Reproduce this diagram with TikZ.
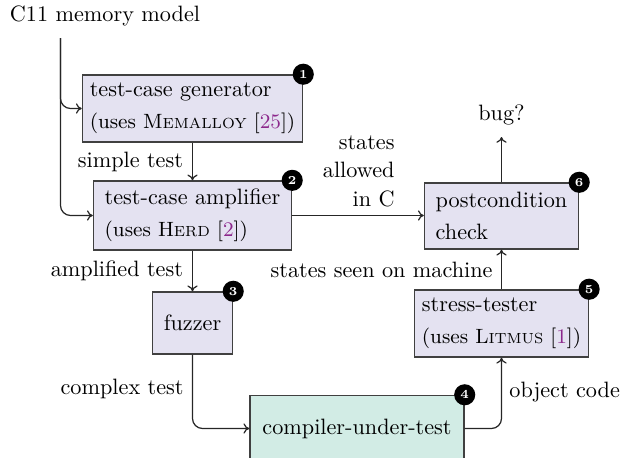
\documentclass[tikz,border=0pt]{standalone}
\usetikzlibrary{calc,arrows.meta}
\definecolor{boxfill}{RGB}{228,226,241}
\definecolor{cutfill}{RGB}{210,236,229}
\definecolor{boxline}{RGB}{64,64,64}
\definecolor{citecol}{RGB}{140,40,140}
\newcommand{\citeref}[1]{[\textcolor{citecol}{#1}]}
% tool names in small capitals
\newcommand{\toolname}[2]{#1{\fontsize{6.6}{6.6}\selectfont #2}}
% second line of a stage box: the tool it relies on
\newcommand{\uses}[1]{{\fontsize{9.3}{9.3}\selectfont(uses #1)}}
\begin{document}
\begin{tikzpicture}[x=0.45pt,y=-0.45pt,
  every node/.style={font=\fontsize{10}{14.4}\selectfont},
  stage/.style={draw=boxline,line width=0.65pt,fill=boxfill,align=left,
    inner xsep=3.3pt,inner ysep=0pt},
  badge/.style={circle,fill=black,text=white,inner sep=0pt,minimum size=9.5pt,
    font=\fontsize{5.5}{5.5}\selectfont\bfseries},
  flow/.style={-{Computer Modern Rightarrow[length=2.6pt,width=4.6pt]},
    line width=0.55pt,draw=black!85,rounded corners=4.5pt},
  lbl/.style={inner sep=0pt}]
\useasboundingbox (0,0) rectangle (620,458);

% input
\node[lbl] (c11) at (105,16) {C11 memory model};
\coordinate (c11top) at (60.5,38);

% stages
\node[stage,minimum width=94pt,minimum height=30.2pt] (gen) at (192.5,108.5)
  {test-case generator\\\uses{\toolname{M}{EMALLOY} \citeref{25}}};
\node[stage,minimum width=89.1pt,minimum height=31pt] (amp) at (192.5,215.5)
  {test-case amplifier\\\uses{\toolname{H}{ERD} \citeref{2}}};
\node[stage,minimum width=36pt,minimum height=27.9pt] (fuzz) at (192.5,323) {fuzzer};
\node[stage,fill=cutfill,minimum width=96.3pt,minimum height=29.7pt] (cut) at (357,428.5)
  {compiler-under-test};
\node[stage,minimum width=76.5pt,minimum height=30.2pt] (stress) at (501.5,323.5)
  {stress-tester\\\uses{\toolname{L}{ITMUS} \citeref{1}}};
\node[stage,minimum width=69.3pt,minimum height=29.7pt] (post) at (501.5,216)
  {postcondition\\check};

% numbered badges
\node[badge] at (gen.north east) {1};
\node[badge] at (amp.north east) {2};
\node[badge] at (fuzz.north east) {3};
\node[badge] at (cut.north east) {4};
\node[badge] at (stress.north east) {5};
\node[badge] at (post.north east) {6};

% output
\node[lbl] (bug) at (501.5,115) {bug?};
\coordinate (bugtip) at (501.5,137);

% connectors
\draw[flow] (c11top) |- (gen.west);
\draw[flow] (c11top) |- (amp.west);
\draw[flow] (gen.south) -- node[lbl,anchor=east,xshift=-4pt] {simple test} (amp.north);
\draw[flow] (amp.south) -- node[lbl,anchor=east,xshift=-4pt] {amplified test} (fuzz.north);
\draw[flow] (fuzz.south) |- (cut.west);
\node[lbl,anchor=east] (cplx) at (184,389) {complex test};
\draw[flow] (cut.east) -| (stress.south);
\node[lbl,anchor=west] (obj) at (509,392) {object code};
\draw[flow] (stress.north) -- (post.south);
\node[lbl,anchor=east] (seen) at (493,270) {states seen on machine};
\draw[flow] (amp.east) -- (amp.east -| post.west);
\node[lbl,anchor=east,align=right,font=\fontsize{10}{12.8}\selectfont] (allowed) at (395,171)
  {states\\allowed\\in C};
\draw[flow] (post.north) -- (bugtip);
\end{tikzpicture}
\end{document}
